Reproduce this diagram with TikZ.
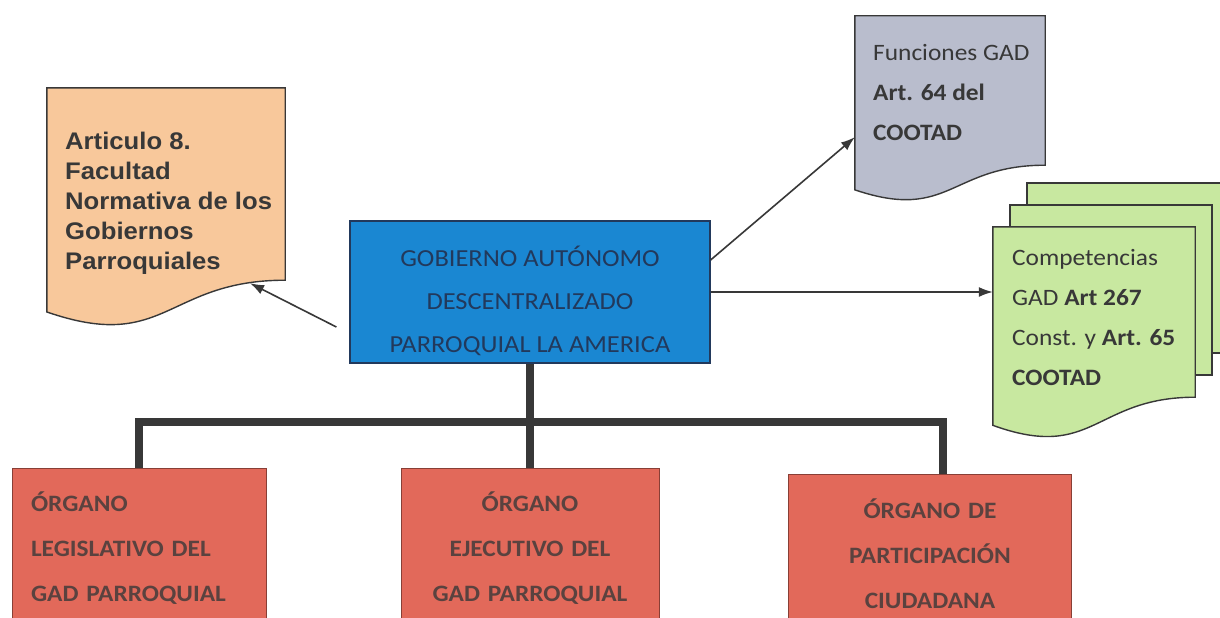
\documentclass[tikz,border=0pt]{standalone}
\usepackage{fontspec}
\setmainfont{Carlito}[FakeStretch=1.08]
\newfontfamily\arialfont{Liberation Sans}[FakeStretch=1.07]
\usetikzlibrary{arrows.meta,calc}

\definecolor{peach}{HTML}{F8C89B}
\definecolor{slate}{HTML}{B9BDCD}
\definecolor{lime}{HTML}{C8E8A0}
\definecolor{gadblue}{HTML}{1A87D2}
\definecolor{organo}{HTML}{E2695A}
\definecolor{navy}{HTML}{22395C}
\definecolor{ink}{HTML}{383838}

\tikzset{
  sheet/.style={inner sep=0pt},
  back sheet/.style={draw=ink, line width=1.4pt, fill=lime, inner sep=0pt},
  doctxt/.style={inner sep=0pt, align=left, text=ink, anchor=west},
  organo box/.style={draw=organo!60!black, line width=1pt, fill=organo, text=ink!80!organo,
    inner xsep=19pt, inner ysep=0pt, minimum height=160pt,
    font=\fontsize{23.5}{45}\selectfont\bfseries},
  tree/.style={draw=ink, line width=8pt},
  arr/.style={draw=ink, line width=1.6pt, -{Latex[length=14pt,width=10pt]}}
}

% document shape with wavy bottom
\newcommand{\docwave}[2]{%
  \draw[ink, line width=1.4pt, fill=#2] let \p1=(#1.north), \p2=(#1.south), \n1={\y1-\y2} in
    (#1.north west) -- (#1.north east) -- (#1.south east)
    .. controls (#1.south) and ([yshift=-0.38*\n1]#1.south) .. ([yshift=-0.165*\n1]#1.south west) -- cycle;}

\begin{document}
\begin{tikzpicture}[x=1pt, y=-1pt]
  \fill[white] (0,0) rectangle (1220,618);
  \useasboundingbox (0,0) rectangle (1220,618);

  % documents
  \node[sheet, minimum width=238pt, minimum height=192pt] (ley) at (166,184) {};
  \docwave{ley}{peach}
  \node[doctxt, font=\fontsize{24}{30}\selectfont\arialfont\bfseries] at (65,203)
    {Articulo 8.\\Facultad\\Normativa de los\\Gobiernos\\Parroquiales};

  \node[sheet, minimum width=190pt, minimum height=149pt] (fun) at (950,90.5) {};
  \docwave{fun}{slate}
  \node[doctxt, font=\fontsize{23.5}{40}\selectfont] at (873,92)
    {Funciones GAD\\\textbf{Art. 64 del}\\\textbf{COOTAD}};

  \node[back sheet, minimum width=202pt, minimum height=170pt] (comp3) at (1128,268) {};
  \node[back sheet, minimum width=202pt, minimum height=170pt] (comp2) at (1111,290) {};
  \node[sheet, minimum width=202pt, minimum height=170pt] (comp) at (1094,312) {};
  \docwave{comp}{lime}
  \node[doctxt, font=\fontsize{23.5}{40}\selectfont] at (1012,317)
    {Competencias\\GAD \textbf{Art 267}\\Const. y \textbf{Art. 65}\\\textbf{COOTAD}};

  % central box
  \node[draw=navy, line width=1.2pt, fill=gadblue, text=navy, align=center,
    minimum width=360pt, minimum height=142pt, font=\fontsize{24.5}{43}\selectfont] (gad) at (530,292)
    {\rule{0pt}{38pt}GOBIERNO AUTÓNOMO\\DESCENTRALIZADO\\PARROQUIAL LA AMERICA};

  % organos
  \node[organo box, text width=216pt, align=left] (leg) at (139,548)
    {ÓRGANO\\LEGISLATIVO DEL\\GAD PARROQUIAL};
  \node[organo box, text width=220pt, align=center] (ejec) at (530,548)
    {ÓRGANO\\EJECUTIVO DEL\\GAD PARROQUIAL};
  \node[organo box, text width=245pt, align=center] (part) at (930,554)
    {ÓRGANO DE\\PARTICIPACIÓN\\CIUDADANA};

  \coordinate (hub) at (530,422);
  \draw[tree] (gad.south) -- (ejec.north);
  \draw[tree] (leg.north) |- (hub) -| ([xshift=13pt]part.north);

  \draw[arr] ([shift={(-13,35)}]gad.west) -- ([shift={(84,3)}]ley.south);
  \draw[arr] ([shift={(0,-32)}]gad.east) -- ([shift={(0,-28)}]fun.south west);
  \draw[arr] (gad.east) -- (gad.east -| comp.west);
\end{tikzpicture}
\end{document}
